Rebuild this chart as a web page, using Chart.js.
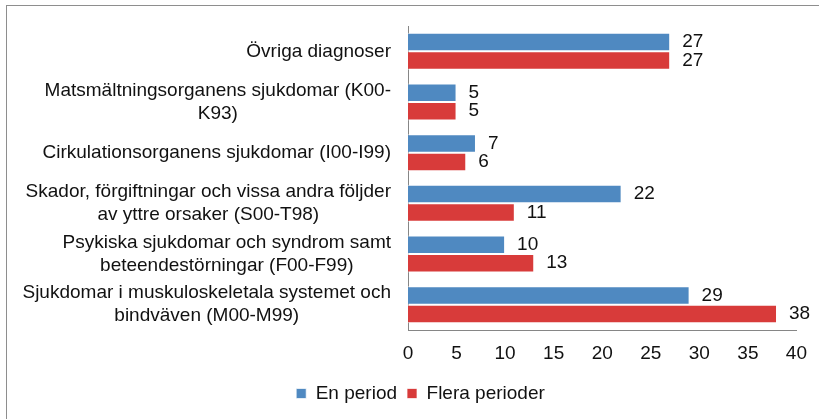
<!DOCTYPE html>
<html>
<head>
<meta charset="utf-8">
<script src="https://cdn.jsdelivr.net/npm/chart.js@4"></script>
<style>
	html, body { margin: 0; padding: 0; background: #fff; }
	#wrap { position: relative; width: 819px; height: 419px; }
	#ram { position: absolute; left: 6px; top: 5px; right: 0; bottom: 0; border-top: 1px solid #8e8e8e; border-left: 1px solid #8e8e8e; }
	canvas { position: absolute; left: 0; top: 0; }
</style>
</head>
<body>
<div id="wrap">
	<div id="ram"></div>
	<canvas id="diagram" width="819" height="419"></canvas>
</div>
<script>
const kategorier = [
	['Övriga diagnoser'],
	['Matsmältningsorganens sjukdomar (K00-', 'K93)'],
	['Cirkulationsorganens sjukdomar (I00-I99)'],
	['Skador, förgiftningar och vissa andra följder', 'av yttre orsaker (S00-T98)'],
	['Psykiska sjukdomar och syndrom samt', 'beteendestörningar (F00-F99)'],
	['Sjukdomar i muskuloskeletala systemet och', 'bindväven (M00-M99)'],
];
const enPeriod = [27, 5, 7, 22, 10, 29];
const fleraPerioder = [27, 5, 6, 11, 13, 38];
const xTicks = [0, 5, 10, 15, 20, 25, 30, 35, 40];

const typsnitt = '"Liberation Sans", Arial, sans-serif';

// kategorietiketter: blocket högerställt, raderna centrerade inom blocket
const kategoriEtiketter = {
	id: 'kategoriEtiketter',
	afterDraw(chart) {
		const ctx = chart.ctx;
		const y = chart.scales.y;
		const hoger = chart.chartArea.left - 17;
		ctx.save();
		ctx.font = '19px ' + typsnitt;
		ctx.fillStyle = '#111';
		ctx.textAlign = 'center';
		ctx.textBaseline = 'middle';
		kategorier.forEach((rader, i) => {
			const bredd = Math.max(...rader.map(r => ctx.measureText(r).width));
			const mitt = y.getPixelForValue(i);
			const start = mitt - (rader.length - 1) * 23 / 2;
			rader.forEach((r, j) => ctx.fillText(r, hoger - bredd / 2, start + j * 23));
		});
		ctx.restore();
	}
};

// värden till höger om staplarna
const vardeEtiketter = {
	id: 'vardeEtiketter',
	afterDatasetsDraw(chart) {
		const ctx = chart.ctx;
		ctx.save();
		ctx.font = '19px ' + typsnitt;
		ctx.fillStyle = '#111';
		ctx.textAlign = 'left';
		ctx.textBaseline = 'middle';
		chart.data.datasets.forEach((ds, d) => {
			chart.getDatasetMeta(d).data.forEach((bar, i) => {
				ctx.fillText(ds.data[i], bar.x + 12, bar.y);
			});
		});
		ctx.restore();
	}
};

new Chart(document.getElementById('diagram'), {
	type: 'bar',
	data: {
		labels: kategorier,
		datasets: [
			{
				label: 'En period',
				data: enPeriod,
				backgroundColor: '#4f89c1',
				borderColor: 'rgba(255,255,255,0.7)',
				borderWidth: 1,
				categoryPercentage: 0.73,
				barPercentage: 1,
			},
			{
				label: 'Flera perioder',
				data: fleraPerioder,
				backgroundColor: '#d83b3a',
				borderColor: 'rgba(255,255,255,0.7)',
				borderWidth: 1,
				categoryPercentage: 0.73,
				barPercentage: 1,
			},
		],
	},
	options: {
		indexAxis: 'y',
		responsive: false,
		animation: false,
		layout: {
			padding: { left: 44, right: 22, top: 26, bottom: 6 },
		},
		plugins: {
			legend: {
				position: 'bottom',
				labels: {
					boxWidth: 10,
					boxHeight: 10,
					padding: 10,
					color: '#111',
					font: { family: typsnitt, size: 19 },
				},
			},
			tooltip: { enabled: false },
		},
		scales: {
			x: {
				min: 0,
				max: 40,
				afterBuildTicks(scale) {
					scale.ticks = xTicks.map(v => ({ value: v }));
				},
				afterFit(scale) {
					scale.height = 44;
				},
				grid: { display: false, drawTicks: false },
				border: { display: true, color: '#868686' },
				ticks: {
					padding: 12,
					color: '#111',
					font: { family: typsnitt, size: 19 },
				},
			},
			y: {
				afterFit(scale) {
					scale.width = 364;
				},
				grid: { display: false, drawTicks: false },
				border: { display: true, color: '#868686' },
				ticks: { display: false },
			},
		},
	},
	plugins: [kategoriEtiketter, vardeEtiketter],
});
</script>
</body>
</html>
